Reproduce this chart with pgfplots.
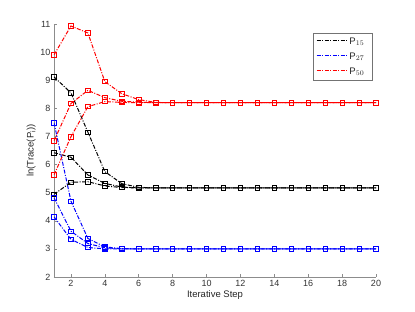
\documentclass[border=0pt]{standalone}
\usepackage{pgfplots}
\pgfplotsset{compat=1.18}
\usepackage{fontspec}
\setmainfont{Liberation Sans}
\pgfplotstableread{
x a b c
1 9.9 6.84 5.63
2 10.93 8.17 6.99
3 10.68 8.64 8.06
4 8.95 8.38 8.24
5 8.52 8.25 8.21
6 8.31 8.22 8.20
7 8.21 8.20 8.20
8 8.20 8.20 8.20
9 8.20 8.20 8.20
10 8.20 8.20 8.20
11 8.20 8.20 8.20
12 8.20 8.20 8.20
13 8.20 8.20 8.20
14 8.20 8.20 8.20
15 8.20 8.20 8.20
16 8.20 8.20 8.20
17 8.20 8.20 8.20
18 8.20 8.20 8.20
19 8.20 8.20 8.20
20 8.20 8.20 8.20
}\redtab
\pgfplotstableread{
x a b c
1 9.12 6.42 4.94
2 8.55 6.26 5.37
3 7.15 5.63 5.39
4 5.75 5.33 5.24
5 5.32 5.20 5.18
6 5.19 5.17 5.17
7 5.17 5.17 5.17
8 5.17 5.17 5.17
9 5.17 5.17 5.17
10 5.17 5.17 5.17
11 5.17 5.17 5.17
12 5.17 5.17 5.17
13 5.17 5.17 5.17
14 5.17 5.17 5.17
15 5.17 5.17 5.17
16 5.17 5.17 5.17
17 5.17 5.17 5.17
18 5.17 5.17 5.17
19 5.17 5.17 5.17
20 5.17 5.17 5.17
}\blacktab
\pgfplotstableread{
x a b c
1 7.49 4.82 4.14
2 4.70 3.63 3.34
3 3.37 3.19 3.05
4 3.07 3.04 3.00
5 3.01 3.00 3.00
6 3.00 3.00 3.00
7 3.00 3.00 3.00
8 3.00 3.00 3.00
9 3.00 3.00 3.00
10 3.00 3.00 3.00
11 3.00 3.00 3.00
12 3.00 3.00 3.00
13 3.00 3.00 3.00
14 3.00 3.00 3.00
15 3.00 3.00 3.00
16 3.00 3.00 3.00
17 3.00 3.00 3.00
18 3.00 3.00 3.00
19 3.00 3.00 3.00
20 3.00 3.00 3.00
}\bluetab
\tikzset{mdash/.style={dash pattern=on 4pt off 1.5pt on 1pt off 1.5pt}}
\begin{document}
\begin{tikzpicture}
\begin{axis}[
  scale only axis, width=322pt, height=253pt,
  xmin=1, xmax=20, ymin=2, ymax=11,
  xtick={2,4,...,20}, ytick={2,3,...,11},
  axis x line*=bottom, axis y line*=left,
  axis line style={draw=black!45, line width=0.6pt},
  tick style={black!45, line width=0.5pt},
  tick align=inside, major tick length=3pt,
  tick label style={font=\fontsize{9}{10}\selectfont, text=black!80},
  /pgf/number format/assume math mode=true,
  xlabel={Iterative Step}, ylabel={ln(Trace(P$_\mathrm{i}$))},
  label style={font=\fontsize{9.5}{10}\selectfont, text=black!85},
  xlabel style={yshift=3pt}, ylabel style={yshift=-2pt},
  every axis plot/.append style={line width=1pt, mdash, mark=square, mark size=2.2pt, mark options={solid, line width=0.7pt}},
]
\addplot[black] table[x=x,y=a]{\blacktab};
\addplot[blue] table[x=x,y=a]{\bluetab};
\addplot[red] table[x=x,y=a]{\redtab};
\addplot[black] table[x=x,y=b]{\blacktab};
\addplot[black] table[x=x,y=c]{\blacktab};
\addplot[blue] table[x=x,y=b]{\bluetab};
\addplot[blue] table[x=x,y=c]{\bluetab};
\addplot[red] table[x=x,y=b]{\redtab};
\addplot[red] table[x=x,y=c]{\redtab};
% legend box and samples
\draw[draw=black!55, fill=white, line width=0.6pt] (rel axis cs:0.804,0.779) rectangle (rel axis cs:0.988,0.964);
\addplot[black, no marks, line width=1.1pt] coordinates {(16.50,10.40) (18.33,10.40)};
\addplot[blue, no marks, line width=1.1pt] coordinates {(16.50,9.87) (18.33,9.87)};
\addplot[red, no marks, line width=1.1pt] coordinates {(16.50,9.33) (18.33,9.33)};
\node[anchor=west, inner sep=0pt, font=\fontsize{9.5}{10}\selectfont, text=black!85] at (rel axis cs:0.917,0.930) {P$_{15}$};
\node[anchor=west, inner sep=0pt, font=\fontsize{9.5}{10}\selectfont, text=black!85] at (rel axis cs:0.917,0.871) {P$_{27}$};
\node[anchor=west, inner sep=0pt, font=\fontsize{9.5}{10}\selectfont, text=black!85] at (rel axis cs:0.917,0.811) {P$_{50}$};
\end{axis}
\pgfresetboundingbox
\useasboundingbox ([shift={(-54pt,-35pt)}]current axis.south west) rectangle ([shift={(39pt,24pt)}]current axis.north east);
\end{tikzpicture}
\end{document}
